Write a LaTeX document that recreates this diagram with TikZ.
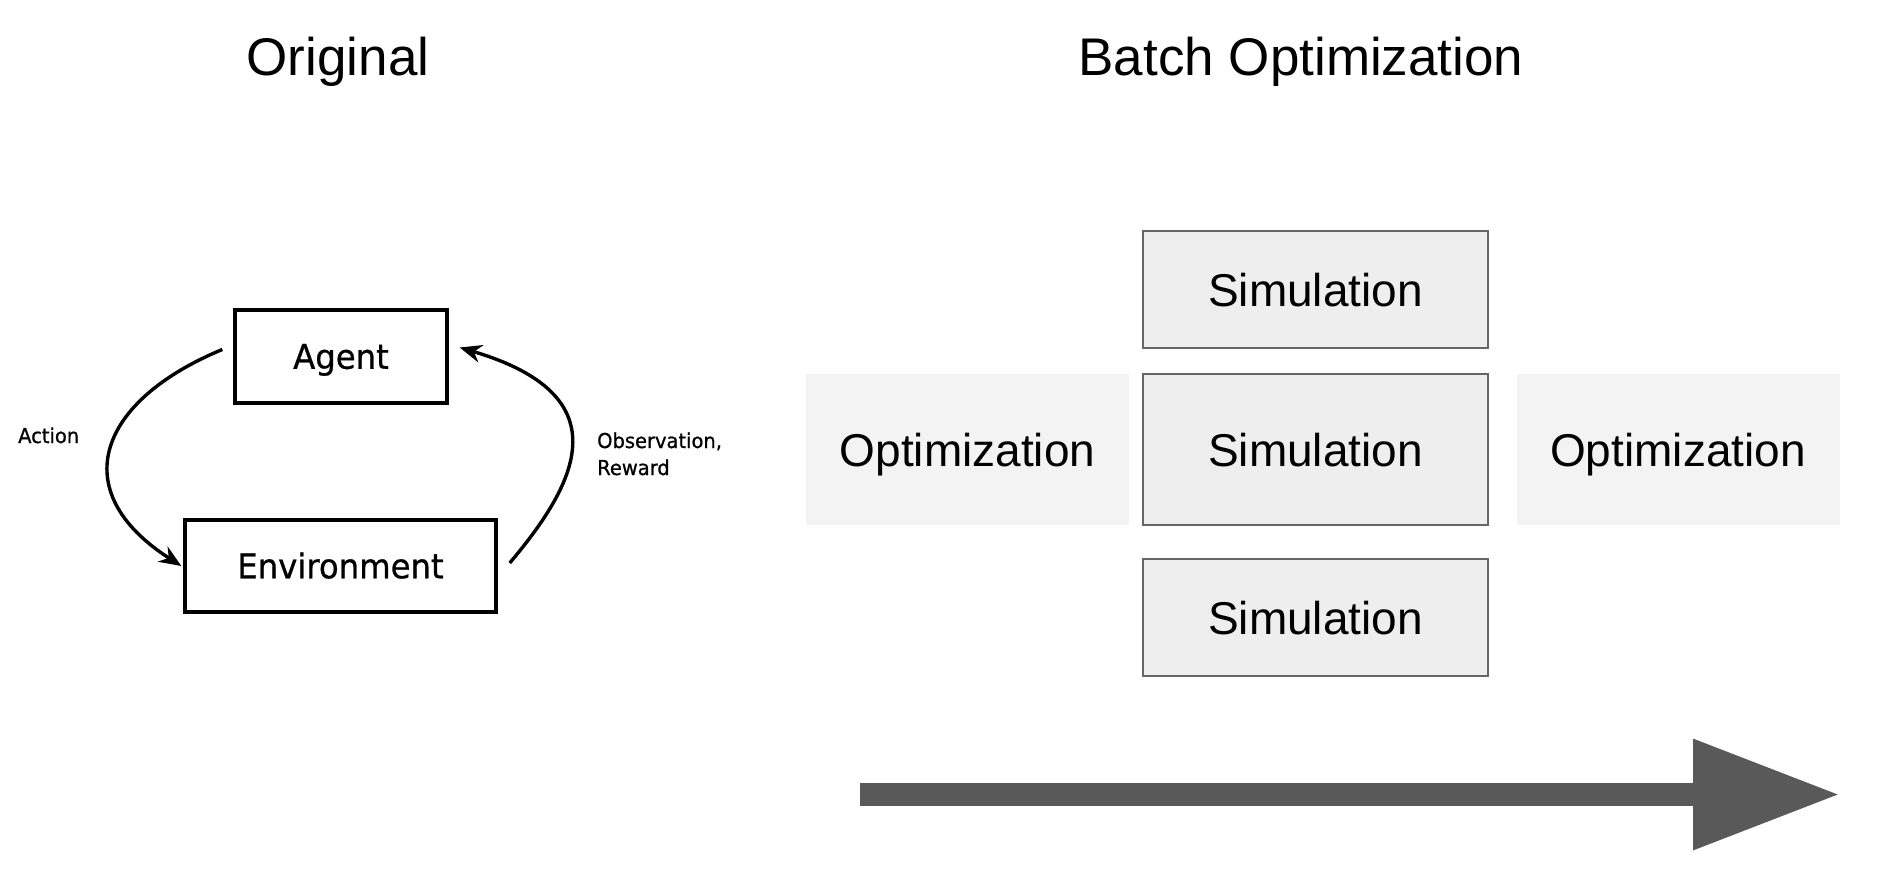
\documentclass[tikz,border=0pt]{standalone}
\usepackage{fontspec}
\setmainfont{Liberation Sans}
\newfontfamily\lfont[FakeBold=0.8,FakeStretch=0.95]{DejaVu Sans}
\usetikzlibrary{arrows.meta}
\definecolor{simfill}{HTML}{EEEEEE}
\definecolor{simdraw}{HTML}{666666}
\definecolor{optfill}{HTML}{F3F3F3}
\definecolor{arrowgray}{HTML}{595959}
\begin{document}
\begin{tikzpicture}[x=1pt,y=-1pt,
  title/.style={font=\fontsize{53}{60}\selectfont, anchor=base, inner sep=0pt},
  simbox/.style={draw=simdraw, line width=2.5pt, fill=simfill, minimum width=345pt, inner sep=0pt,
     font=\fontsize{46}{50}\selectfont, text height=33pt, text depth=0pt},
  optbox/.style={fill=optfill, minimum width=323pt, minimum height=151pt, inner sep=0pt,
     font=\fontsize{46}{50}\selectfont, text height=33pt, text depth=0pt},
  rlbox/.style={draw=black, line width=3.4pt, inner sep=0pt,
     font=\lfont\fontsize{34}{40}\selectfont, text height=24.5pt, text depth=0pt},
  lbl/.style={font=\lfont\fontsize{20.5}{27}\selectfont, anchor=base west, inner sep=0pt},
  loop/.style={line width=3.4pt, -{Stealth[length=22pt,width=18pt]}},
  bigarrow/.style={draw=arrowgray, line width=23pt, -{Triangle[length=147pt,width=105pt]}}
]
\useasboundingbox (0,0) rectangle (1894,878);

% titles
\node[title] (torig) at (338,75) {Original};
\node[title] (tbatch) at (1301,75) {Batch Optimization};

% left: agent-environment loop
\node[rlbox, minimum width=212pt, minimum height=93pt] (agent) at (341,356.5) {Agent};
\node[rlbox, minimum width=311pt, minimum height=92pt] (env) at (340.5,566) {Environment};
\node[lbl] (action) at (18,443) {Action};
\node[lbl] (obs) at (597,448) {Observation,};
\node[lbl] (rew) at (597,475) {Reward};

\draw[loop] ([xshift=-11pt,yshift=7pt]agent.west) .. controls (100,400) and (63,490) .. ([xshift=-2pt]env.west);
\draw[loop] ([xshift=12pt,yshift=3pt]env.east) .. controls (580,480) and (620,395) .. ([xshift=11pt,yshift=9pt]agent.east);

% right: batch optimization
\node[simbox, minimum height=117pt] (sim1) at (1315.5,289.5) {Simulation};
\node[simbox, minimum height=151pt] (sim2) at (1315.5,449.5) {Simulation};
\node[simbox, minimum height=117pt] (sim3) at (1315.5,617.5) {Simulation};
\node[optbox] (opt1) at (967.5,449.5) {Optimization};
\node[optbox] (opt2) at (1678,449.5) {Optimization};

\coordinate (astart) at (860,794.5);
\coordinate (aend) at (1840,794.5);
\draw[bigarrow] (astart) -- (aend);
\end{tikzpicture}
\end{document}
